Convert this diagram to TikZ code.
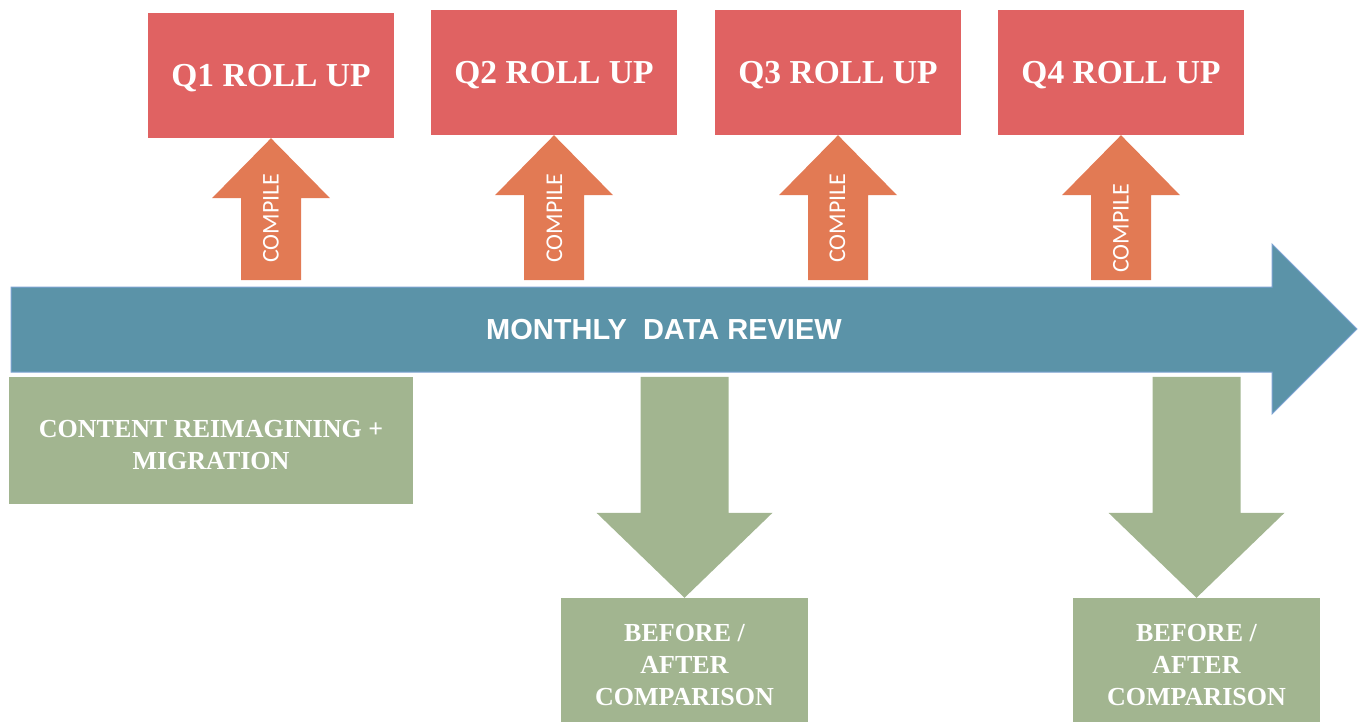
\documentclass[tikz,border=0pt]{standalone}
\usepackage{fontspec}
\setmainfont{Liberation Serif}
\newfontfamily\reviewfont{Liberation Sans}
\newfontfamily\compilefont{Carlito}
\usetikzlibrary{backgrounds}
\definecolor{rollred}{HTML}{E06262}
\definecolor{compileorange}{HTML}{E27A54}
\definecolor{reviewblue}{HTML}{5B93A8}
\definecolor{reviewedge}{HTML}{7DA3D3}
\definecolor{sagegreen}{HTML}{A2B590}
\tikzset{rollup/.style={fill=rollred,text=white,inner sep=0pt,
   minimum width=246pt,minimum height=125pt,text height=23pt,text depth=0pt,
   font=\bfseries\fontsize{33.5}{38}\selectfont},
 greenbox/.style={fill=sagegreen,inner sep=0pt},
 greentext/.style={text=white,inner sep=0pt,align=center,
   font=\bfseries\fontsize{26}{32}\selectfont},
 compile/.style={rotate=90,text=white,inner sep=0pt,
   font=\compilefont\fontsize{24}{24}\selectfont},
 uparrow/.style={fill=compileorange},
 downarrow/.style={fill=sagegreen},
 }

\begin{document}
\begin{tikzpicture}[x=1pt,y=-1pt]
        \useasboundingbox (0,0) rectangle (1359,722);
        % quarter roll ups
        \node[rollup] (q1) at (271,75.5) {Q1 ROLL UP};
        \node[rollup] (q2) at (554,72.5) {Q2 ROLL UP};
        \node[rollup] (q3) at (838,72.5) {Q3 ROLL UP};
        \node[rollup] (q4) at (1121,72.5) {Q4 ROLL UP};
        % compile arrows
        \fill[uparrow] (q1.south) -- ++(59,60) -- ++(-29,0) -- ++(0,82) -- ++(-60,0) -- ++(0,-82) -- ++(-29,0) -- cycle;
        \fill[uparrow] (q2.south) -- ++(59,60) -- ++(-29,0) -- ++(0,85) -- ++(-60,0) -- ++(0,-85) -- ++(-29,0) -- cycle;
        \fill[uparrow] (q3.south) -- ++(59,60) -- ++(-29,0) -- ++(0,85) -- ++(-60,0) -- ++(0,-85) -- ++(-29,0) -- cycle;
        \fill[uparrow] (q4.south) -- ++(59,60) -- ++(-29,0) -- ++(0,85) -- ++(-60,0) -- ++(0,-85) -- ++(-29,0) -- cycle;
        \node[compile] (c1) at (271,218) {COMPILE};
        \node[compile] (c2) at (554.5,218) {COMPILE};
        \node[compile] (c3) at (837.5,218) {COMPILE};
        \node[compile] (c4) at (1121,228) {COMPILE};
        % monthly review arrow
        \filldraw[fill=reviewblue,draw=reviewedge,line width=1pt] (11,287) -- (1272,287) -- (1272,244) -- (1357,329) -- (1272,414) -- (1272,372) -- (11,372) -- cycle;
        \node[font=\reviewfont\bfseries\fontsize{29}{30}\selectfont,text=white] (review) at (664,330) {MONTHLY\ \ DATA REVIEW};
        % green boxes
        \node[greenbox,minimum width=404pt,minimum height=127pt] (content) at (211,440.5) {};
        \node[greenbox,minimum width=247pt,minimum height=124pt] (ba1) at (684.5,660) {};
        \node[greenbox,minimum width=247pt,minimum height=124pt] (ba2) at (1196.5,660) {};
        \node[greentext] (contentlabel) at ([yshift=-5pt]content.center) {CONTENT REIMAGINING +\\MIGRATION};
        \node[greentext] (ba1label) at ([yshift=-5pt]ba1.center) {BEFORE /\\AFTER\\COMPARISON};
        \node[greentext] (ba2label) at ([yshift=-5pt]ba2.center) {BEFORE /\\AFTER\\COMPARISON};
        % down arrows
        \fill[downarrow] (ba1.north) -- ++(88,-85) -- ++(-44,0) -- ++(0,-136) -- ++(-88,0) -- ++(0,136) -- ++(-44,0) -- cycle;
        \fill[downarrow] (ba2.north) -- ++(88,-85) -- ++(-44,0) -- ++(0,-136) -- ++(-88,0) -- ++(0,136) -- ++(-44,0) -- cycle;
    \end{tikzpicture}
\end{document}
